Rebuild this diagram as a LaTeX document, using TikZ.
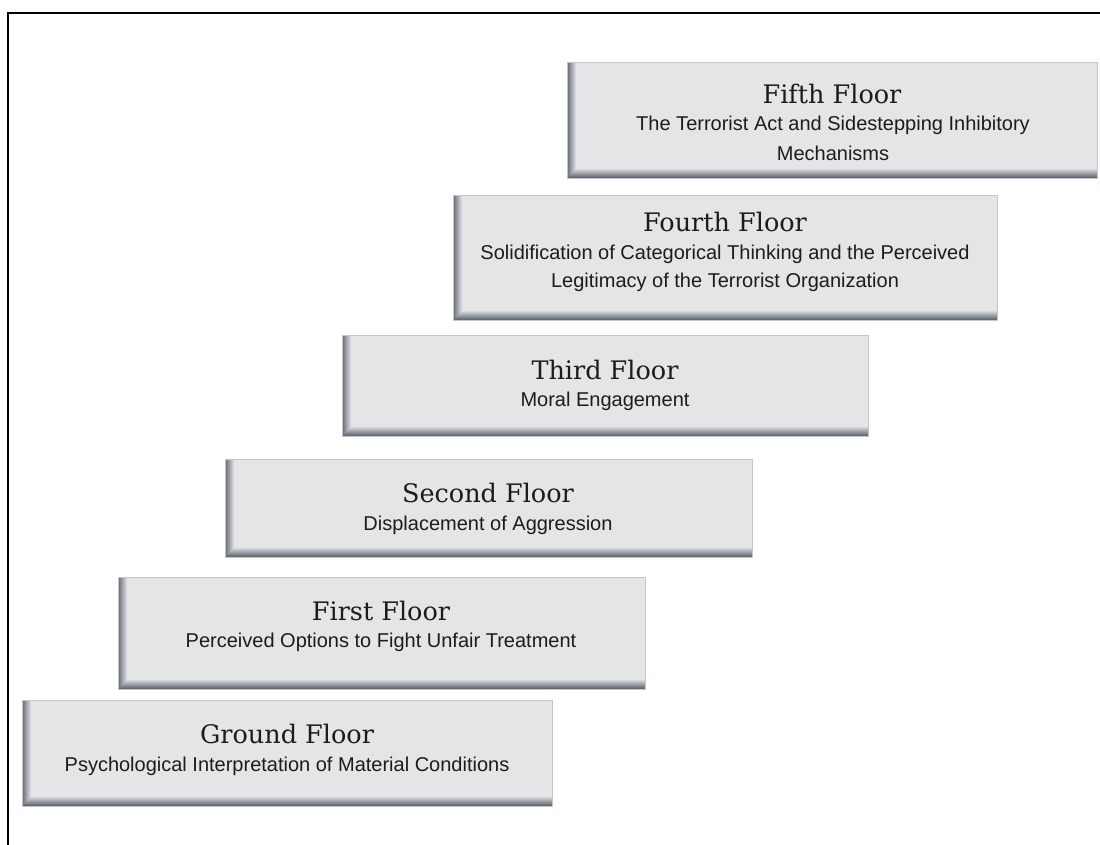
\documentclass[tikz,border=0pt]{standalone}
\usepackage{fontspec}
\setmainfont{Liberation Sans}
\newfontfamily\titlefont{DejaVu Serif}
\definecolor{boxfill}{RGB}{229,229,231}
\definecolor{boxedge}{RGB}{196,198,203}
\definecolor{shadowc}{RGB}{100,106,116}
\definecolor{txt}{RGB}{28,28,28}
\begin{document}
\begin{tikzpicture}[x=1pt,y=-1pt,
  floorbox/.style={draw=boxedge, line width=0.8pt, fill=boxfill, inner sep=0pt,
    path picture={
      \foreach \i in {0,...,8}{
        \pgfmathsetmacro{\pct}{100-\i*11}
        \fill[shadowc!\pct!boxfill]
          ([xshift=\i pt]path picture bounding box.south west) rectangle
          ([xshift=\i pt+1.05pt]path picture bounding box.north west);
      }
      \foreach \i in {0,...,8}{
        \pgfmathsetmacro{\pct}{100-\i*11}
        \fill[shadowc!\pct!boxfill]
          ([xshift=\i pt,yshift=\i pt]path picture bounding box.south west) rectangle
          ([yshift=\i pt+1.05pt]path picture bounding box.south east);
      }
    }},
  floortitle/.style={font=\titlefont\fontsize{25.5}{28}\selectfont, text=txt, inner sep=0pt},
  floortext/.style={font=\fontsize{20}{23}\selectfont, text=txt, inner sep=0pt}
]
\useasboundingbox (0,0) rectangle (1100,845);
\fill[white] (0,0) rectangle (1100,845);
% frame
\coordinate (fa) at (8,845);
\coordinate (fb) at (8,13);
\coordinate (fc) at (1100,13);
\draw[line width=2.6pt, black] (fa) -- (fb) -- (fc);

% boxes
\node[floorbox, minimum width=530, minimum height=116] (f5) at (832,120) {};
\node[floorbox, minimum width=544, minimum height=125] (f4) at (725,257.5) {};
\node[floorbox, minimum width=526, minimum height=101] (f3) at (605,385.5) {};
\node[floorbox, minimum width=527, minimum height=98] (f2) at (488.5,508) {};
\node[floorbox, minimum width=527, minimum height=112] (f1) at (381.5,633) {};
\node[floorbox, minimum width=530, minimum height=106] (f0) at (287,753) {};

% texts
\node[floortitle] (f5t) at (832,94) {Fifth Floor};
\node[floortext] (f5a) at (833,125) {The Terrorist Act and Sidestepping Inhibitory};
\node[floortext] (f5b) at (833,153) {Mechanisms};

\node[floortitle] (f4t) at (725,222) {Fourth Floor};
\node[floortext] (f4a) at (725,254) {Solidification of Categorical Thinking and the Perceived};
\node[floortext] (f4b) at (725,282) {Legitimacy of the Terrorist Organization};

\node[floortitle] (f3t) at (605,370) {Third Floor};
\node[floortext] (f3a) at (605,401) {Moral Engagement};

\node[floortitle] (f2t) at (488,493) {Second Floor};
\node[floortext] (f2a) at (488,525) {Displacement of Aggression};

\node[floortitle] (f1t) at (381,611) {First Floor};
\node[floortext] (f1a) at (381,642) {Perceived Options to Fight Unfair Treatment};

\node[floortitle] (f0t) at (287,734) {Ground Floor};
\node[floortext] (f0a) at (287,766) {Psychological Interpretation of Material Conditions};
\end{tikzpicture}
\end{document}
